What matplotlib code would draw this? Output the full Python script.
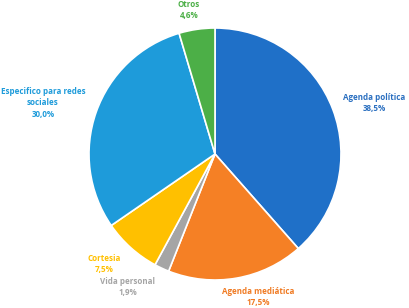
import matplotlib
matplotlib.use("Agg")
import matplotlib.pyplot as plt

# datos
categorias = ["Agenda política", "Agenda mediática", "Vida personal", "Cortesia",
              "Especifico para redes\nsociales", "Otros"]
valores = [38.5, 17.5, 1.9, 7.5, 30.0, 4.6]
colores = ["#1F70C8", "#F58025", "#A5A5A5", "#FFC000", "#1E9BDA", "#4CAF47"]
colores_texto = ["#2A6FC0", "#F07A22", "#A5A5A5", "#FFC000", "#1E9BDA", "#4CAF47"]

# posiciones de las etiquetas (pixeles, y hacia abajo)
pos_etiquetas = [(374, 103), (258, 297), (128, 287), (104, 264), (43, 103), (189, 10)]

fig = plt.figure(figsize=(4.10, 3.08), dpi=100)
ax = fig.add_axes([0, 0, 1, 1])

ax.pie(valores, colors=colores, startangle=90, counterclock=False,
       center=(215, 154), radius=126, frame=True,
       wedgeprops=dict(edgecolor="white", linewidth=1.2))
ax.set_xlim(0, 410)
ax.set_ylim(0, 308)
ax.set_aspect("equal")
ax.axis("off")

for cat, v, c, (x, y) in zip(categorias, valores, colores_texto, pos_etiquetas):
    txt = f"{cat}\n{v:.1f}%".replace(".", ",")
    ax.text(x, 308 - y, txt, ha="center", va="center", color=c,
            fontsize=5.8, fontweight="bold", family="Open Sans", linespacing=1.3)

fig.savefig("out.png", dpi=100)
